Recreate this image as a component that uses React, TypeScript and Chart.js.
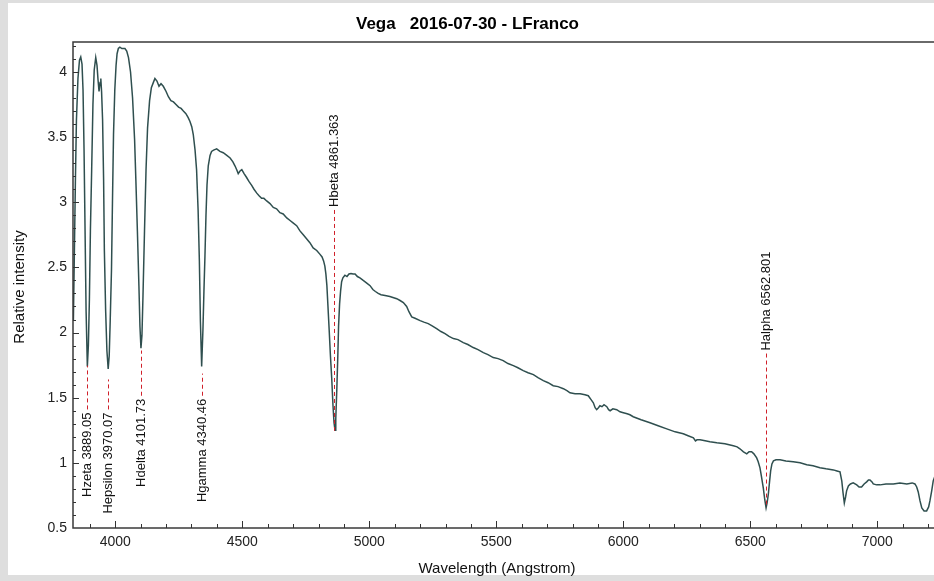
import React, { useEffect, useRef } from 'react';
import { Chart, registerables } from 'chart.js';

Chart.register(...registerables);

const FONT = '"Liberation Sans", Arial, sans-serif';

const TITLE = 'Vega   2016-07-30 - LFranco';
const X_TITLE = 'Wavelength (Angstrom)';
const Y_TITLE = 'Relative intensity';

// Spectrum (wavelength in Angstrom, relative intensity)
const wavelengths = [
  3835, 3839, 3843, 3847, 3853, 3859, 3864, 3869, 3873, 3877, 3881, 3885, 3890, 3894, 3898, 3902,
  3907, 3912, 3917, 3923, 3928, 3932, 3936, 3940, 3943, 3946, 3950, 3954, 3957, 3962, 3967, 3972,
  3976, 3980, 3985, 3989, 3993, 3998, 4003, 4007, 4012, 4018, 4026, 4032, 4038, 4045, 4052, 4060,
  4068, 4076, 4081, 4087, 4093, 4097, 4101, 4105, 4109, 4115, 4121, 4127, 4135, 4142, 4150, 4156,
  4164, 4172, 4180, 4189, 4200, 4209, 4219, 4229, 4239, 4249, 4259, 4268, 4278, 4287, 4294, 4301,
  4307, 4314, 4320, 4326, 4331, 4335, 4340, 4345, 4349, 4353, 4357, 4361, 4366, 4373, 4379, 4387,
  4399, 4412, 4425, 4439, 4452, 4463, 4471, 4478, 4484, 4491, 4498, 4507, 4517, 4526, 4537, 4546,
  4557, 4566, 4576, 4585, 4596, 4609, 4622, 4635, 4648, 4661, 4675, 4688, 4701, 4714, 4727, 4740,
  4753, 4766, 4779, 4793, 4806, 4814, 4820, 4825, 4829, 4833, 4837, 4842, 4847, 4852, 4857, 4861,
  4865, 4868, 4872, 4876, 4879, 4883, 4887, 4891, 4896, 4904, 4912, 4920, 4928, 4936, 4944, 4953,
  4963, 4976, 4990, 5003, 5014, 5024, 5035, 5046, 5062, 5081, 5108, 5121, 5134, 5147, 5156, 5167,
  5180, 5200, 5215, 5232, 5249, 5265, 5282, 5298, 5314, 5331, 5349, 5370, 5388, 5409, 5428, 5449,
  5467, 5488, 5507, 5527, 5546, 5567, 5585, 5606, 5625, 5646, 5664, 5685, 5704, 5724, 5743, 5764,
  5778, 5790, 5810, 5830, 5849, 5862, 5873, 5882, 5889, 5895, 5902, 5908, 5916, 5924, 5935, 5942,
  5948, 5959, 5974, 5987, 6000, 6015, 6026, 6039, 6070, 6105, 6137, 6171, 6204, 6236, 6255, 6276,
  6284, 6290, 6302, 6322, 6341, 6368, 6400, 6433, 6448, 6459, 6473, 6486, 6495, 6505, 6514, 6525,
  6531, 6538, 6544, 6551, 6557, 6562, 6566, 6571, 6576, 6580, 6585, 6591, 6601, 6617, 6640, 6669,
  6696, 6722, 6747, 6774, 6798, 6827, 6841, 6853, 6860, 6865, 6870, 6875, 6879, 6886, 6894, 6905,
  6919, 6928, 6938, 6948, 6958, 6965, 6971, 6979, 6984, 6997, 7011, 7034, 7063, 7089, 7116, 7137,
  7148, 7155, 7161, 7168, 7175, 7184, 7194, 7202, 7207, 7214, 7220, 7227,
];

const intensities = [
  2.09, 2.63, 3.17, 3.63, 3.95, 4.09, 4.115, 4.06, 3.86, 3.40, 2.78, 2.17, 1.74, 1.90, 2.25, 2.78,
  3.25, 3.75, 4.015, 4.11, 4.05, 3.94, 3.85, 3.92, 3.95, 3.85, 3.63, 3.17, 2.63, 2.17, 1.86, 1.72,
  1.82, 2.09, 2.48, 3.02, 3.52, 3.86, 4.05, 4.14, 4.18, 4.19, 4.18, 4.18, 4.18, 4.16, 4.11, 4.00,
  3.80, 3.48, 3.17, 2.78, 2.36, 2.05, 1.88, 1.98, 2.28, 2.78, 3.25, 3.57, 3.78, 3.88, 3.92, 3.95,
  3.93, 3.89, 3.91, 3.89, 3.85, 3.81, 3.78, 3.77, 3.75, 3.73, 3.72, 3.70, 3.68, 3.65, 3.62, 3.58,
  3.52, 3.40, 3.25, 2.94, 2.55, 2.09, 1.74, 2.02, 2.32, 2.59, 2.90, 3.13, 3.28, 3.36, 3.39, 3.40,
  3.41, 3.39, 3.38, 3.36, 3.34, 3.31, 3.28, 3.25, 3.22, 3.24, 3.25, 3.22, 3.19, 3.16, 3.13, 3.10,
  3.07, 3.05, 3.03, 3.03, 3.01, 2.99, 2.96, 2.95, 2.92, 2.91, 2.88, 2.86, 2.84, 2.82, 2.78, 2.75,
  2.72, 2.69, 2.65, 2.63, 2.60, 2.58, 2.55, 2.51, 2.45, 2.36, 2.21, 2.02, 1.82, 1.65, 1.44, 1.31,
  1.25, 1.34, 1.56, 1.82, 2.05, 2.22, 2.32, 2.39, 2.42, 2.44, 2.43, 2.45, 2.454, 2.45, 2.45, 2.43,
  2.42, 2.40, 2.38, 2.36, 2.33, 2.315, 2.30, 2.29, 2.285, 2.277, 2.26, 2.246, 2.23, 2.20, 2.16, 2.12,
  2.11, 2.092, 2.08, 2.069, 2.05, 2.03, 2.008, 1.992, 1.97, 1.954, 1.946, 1.923, 1.908, 1.885, 1.869, 1.846,
  1.831, 1.808, 1.80, 1.785, 1.762, 1.746, 1.73, 1.708, 1.692, 1.677, 1.654, 1.631, 1.615, 1.592, 1.585, 1.569,
  1.554, 1.538, 1.531, 1.531, 1.523, 1.515, 1.485, 1.461, 1.423, 1.408, 1.423, 1.438, 1.431, 1.446, 1.431, 1.408,
  1.40, 1.415, 1.408, 1.392, 1.385, 1.377, 1.369, 1.354, 1.331, 1.308, 1.285, 1.261, 1.238, 1.223, 1.208, 1.192,
  1.169, 1.177, 1.177, 1.169, 1.162, 1.154, 1.146, 1.131, 1.123, 1.108, 1.085, 1.069, 1.085, 1.085, 1.069, 1.038,
  1.008, 0.962, 0.892, 0.808, 0.715, 0.654, 0.692, 0.762, 0.862, 0.938, 0.992, 1.015, 1.023, 1.023, 1.015, 1.008,
  1.0, 0.985, 0.977, 0.962, 0.954, 0.946, 0.938, 0.931, 0.862, 0.769, 0.692, 0.738, 0.785, 0.823, 0.838, 0.846,
  0.831, 0.815, 0.815, 0.838, 0.854, 0.869, 0.869, 0.854, 0.838, 0.831, 0.831, 0.838, 0.838, 0.846, 0.838, 0.846,
  0.838, 0.815, 0.777, 0.708, 0.654, 0.631, 0.631, 0.662, 0.708, 0.785, 0.862, 0.90,
];

// Axis ticks
const xTicks = [4000, 4500, 5000, 5500, 6000, 6500, 7000];
const yTicks = [0.5, 1, 1.5, 2, 2.5, 3, 3.5, 4];
const X_MIN = 3833.5;
const X_MAX = 7227;
const Y_MIN = 0.5;
const Y_MAX = 4.23;

// Hydrogen line markers
const lineNames = [
  'Hzeta 3889.05',
  'Hepsilon 3970.07',
  'Hdelta 4101.73',
  'Hgamma 4340.46',
  'Hbeta 4861.363',
  'Halpha 6562.801',
];
const lineWaves = [3889.05, 3970.07, 4101.73, 4340.46, 4861.363, 6562.801];
const labelAnchors = [1.387, 1.387, 1.492, 1.492, 2.964, 1.862];
const lineEnds = [1.746, 1.64, 1.862, 1.685, 1.246, 0.656];
const labelBelow = [true, true, true, true, false, false];

export default function App() {
  const ref = useRef<HTMLCanvasElement>(null);

  useEffect(() => {
    const canvas = ref.current;
    if (!canvas) return;
    const points = wavelengths.map((w, i) => ({ x: w, y: intensities[i] }));

    const decor = {
      id: 'decor',
      afterDatasetsDraw(chart: any) {
        const { ctx, scales } = chart;
        const xs = scales.x;
        const ys = scales.y;
        ctx.save();
        ctx.font = `13px ${FONT}`;
        for (let i = 0; i < lineWaves.length; i++) {
          const px = Math.round(xs.getPixelForValue(lineWaves[i])) + 0.5;
          const ya = ys.getPixelForValue(labelAnchors[i]);
          const ye = ys.getPixelForValue(lineEnds[i]);
          ctx.strokeStyle = '#d0202a';
          ctx.lineWidth = 1;
          ctx.setLineDash([4, 3]);
          ctx.beginPath();
          ctx.moveTo(px, labelBelow[i] ? ya - 3 : ya + 3);
          ctx.lineTo(px, ye);
          ctx.stroke();
          ctx.setLineDash([]);
          ctx.save();
          ctx.translate(px, ya);
          ctx.rotate(-Math.PI / 2);
          ctx.textAlign = labelBelow[i] ? 'right' : 'left';
          ctx.textBaseline = 'middle';
          ctx.fillStyle = '#111';
          ctx.fillText(lineNames[i], 0, 0);
          ctx.restore();
        }
        ctx.restore();
      },
      afterDraw(chart: any) {
        const { ctx, chartArea: a, scales } = chart;
        const xs = scales.x;
        const ys = scales.y;
        ctx.save();
        ctx.strokeStyle = '#3a3a3a';
        ctx.lineWidth = 1.5;
        ctx.strokeRect(a.left, a.top, a.right - a.left, a.bottom - a.top);
        ctx.lineWidth = 1;
        ctx.strokeStyle = '#333';
        ctx.beginPath();
        for (let k = 39; k <= 72; k++) {
          const v = k * 100;
          const px = Math.round(xs.getPixelForValue(v)) + 0.5;
          const len = v % 500 === 0 ? 7 : 4;
          ctx.moveTo(px, a.bottom);
          ctx.lineTo(px, a.bottom - len);
        }
        for (let k = 6; k <= 42; k++) {
          const v = k / 10;
          const py = Math.round(ys.getPixelForValue(v)) + 0.5;
          const len = k % 5 === 0 ? 6 : 3;
          ctx.moveTo(a.left, py);
          ctx.lineTo(a.left + len, py);
        }
        ctx.stroke();
        ctx.fillStyle = '#111';
        ctx.font = `15px ${FONT}`;
        ctx.textAlign = 'center';
        ctx.textBaseline = 'middle';
        ctx.fillText(X_TITLE, 497, 569);
        ctx.translate(20, 287);
        ctx.rotate(-Math.PI / 2);
        ctx.fillText(Y_TITLE, 0, 0);
        ctx.restore();
      },
    };

    const chart = new Chart(canvas, {
      type: 'line',
      data: {
        datasets: [
          {
            data: points,
            borderColor: '#2f4f4f',
            borderWidth: 1.5,
            pointRadius: 0,
            tension: 0,
            fill: false,
          },
        ],
      },
      options: {
        animation: false,
        responsive: false,
        maintainAspectRatio: false,
        layout: { padding: { left: 0, right: 15, top: 0, bottom: 0 } },
        plugins: {
          legend: { display: false },
          tooltip: { enabled: false },
          title: {
            display: true,
            text: TITLE,
            color: '#000',
            font: { family: FONT, size: 17, weight: 'bold', lineHeight: 1.2 },
            padding: { top: 14, bottom: 7.6 },
          },
        },
        scales: {
          x: {
            type: 'linear',
            min: X_MIN,
            max: X_MAX,
            grid: { display: false, drawTicks: false },
            border: { display: false },
            ticks: {
              padding: 6,
              color: '#222',
              font: { family: FONT, size: 14 },
              maxRotation: 0,
              autoSkip: false,
              callback: (v: any) => String(v),
            },
            afterBuildTicks: (s: any) => {
              s.ticks = xTicks.map((v) => ({ value: v }));
            },
            afterFit: (s: any) => {
              s.height = 53;
            },
          },
          y: {
            type: 'linear',
            min: Y_MIN,
            max: Y_MAX,
            grid: { display: false, drawTicks: false },
            border: { display: false },
            ticks: {
              padding: 6,
              color: '#222',
              font: { family: FONT, size: 14 },
              callback: (v: any) => String(v),
            },
            afterBuildTicks: (s: any) => {
              s.ticks = yTicks.map((v) => ({ value: v }));
            },
            afterFit: (s: any) => {
              s.width = 73;
            },
          },
        },
      },
      plugins: [decor],
    });
    return () => chart.destroy();
  }, []);

  return (
    <div
      style={{
        position: 'fixed',
        left: 0,
        top: 0,
        width: 934,
        height: 581,
        overflow: 'hidden',
        background: '#dedede',
      }}
    >
      <div style={{ position: 'absolute', left: 8, top: 3, width: 960, height: 572, background: '#fff' }} />
      <canvas ref={ref} width={950} height={581} style={{ position: 'absolute', left: 0, top: 0, display: 'block' }} />
    </div>
  );
}
